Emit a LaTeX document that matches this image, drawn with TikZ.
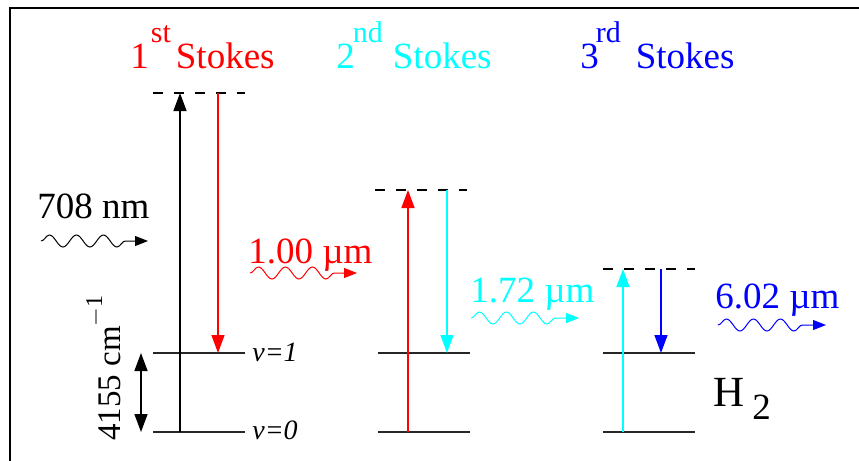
\documentclass[tikz,border=0pt]{standalone}
\usepackage{fontspec}
\setmainfont{Liberation Serif}
\usetikzlibrary{arrows.meta, positioning, decorations.pathmorphing}

\definecolor{stkred}{RGB}{255,0,0}
\definecolor{stkcyan}{RGB}{0,255,255}
\definecolor{stkblue}{RGB}{0,0,255}

\newcommand\ordsup[1]{\raisebox{13pt}{\fontsize{15}{15}\selectfont #1}}

\begin{document}
\begin{tikzpicture}[
  x=0.5pt, y=-0.5pt,
  >={Triangle[length=9pt,width=6.5pt]},
  % Text styles
  big/.style    = {font=\fontsize{18.5}{20}\selectfont, inner sep=0pt,
                   anchor=base west},
  vlabel/.style = {font=\fontsize{14}{16}\selectfont\itshape,
                   inner sep=0pt, anchor=base west},
  % Line styles
  level/.style  = {line width=0.6pt, black!85},
  virt/.style   = {line width=1.3pt, dash pattern=on 5pt off 5.5pt},
  trans/.style  = {->, line width=0.7pt},
  wave/.style   = {-{Triangle[length=6.5pt,width=5pt]}, line width=0.5pt,
                   decorate, decoration={snake, amplitude=3pt,
                   segment length=13.5pt, post length=8pt}}
]
\useasboundingbox (0,0) rectangle (859,461);

% frame
\draw[line width=1pt] (10,470) -- (10,8) -- (870,8);

% =========================== TITLES ===========================
\node[big, stkred]  (t1) at (130,68) {1\kern1pt\ordsup{st}\kern2.5pt Stokes};
\node[big, stkcyan] (t2) at (336,68) {2\kern-1pt\ordsup{nd}\kern5pt Stokes};
\node[big, stkblue] (t3) at (580,68) {3\kern-1.5pt\ordsup{rd}\kern7.5pt Stokes};

% =========================== LEVELS ===========================
\foreach \x in {153,378,603} {
  \draw[level] (\x,353) -- ++(92,0);
  \draw[level] (\x,432) -- ++(92,0);
}
\draw[virt] (153,93)  -- ++(92,0);
\draw[virt] (375,190) -- ++(92,0);
\draw[virt] (603,269) -- ++(92,0);

\node[vlabel] (v1) at (252,361) {v=1};
\node[vlabel] (v0) at (252,439) {v=0};

% arrow end points
\coordinate (a1g) at (180,432); \coordinate (a1u) at (180,93);
\coordinate (b1u) at (218,93);  \coordinate (b1e) at (218,353);
\coordinate (a2g) at (408,432); \coordinate (a2u) at (408,190);
\coordinate (b2u) at (447,190); \coordinate (b2e) at (447,353);
\coordinate (a3g) at (623,432); \coordinate (a3u) at (623,269);
\coordinate (b3u) at (661,269); \coordinate (b3e) at (661,353);
\coordinate (s1) at (141,353);  \coordinate (s0) at (141,432);

% =========================== TRANSITIONS ===========================
\draw[trans]          (a1g) -- (a1u);
\draw[trans, stkred]  (b1u) -- (b1e);
\draw[trans, stkred]  (a2g) -- (a2u);
\draw[trans, stkcyan] (b2u) -- (b2e);
\draw[trans, stkcyan] (a3g) -- (a3u);
\draw[trans, stkblue] (b3u) -- (b3e);

% vibrational spacing
\draw[<->, line width=0.7pt] (s0) -- (s1);
\node[big, rotate=90, font=\fontsize{16.5}{18}\selectfont] (shift) at (120,441)
  {4155 cm\raisebox{9pt}{\fontsize{12}{12}\selectfont $-$1}};

% =========================== PHOTONS ===========================
\node[big]          (pump) at (37,218)  {708 nm};
\node[big, stkred]  (w1)   at (248,263) {1.00 µm};
\node[big, stkcyan] (w2)   at (470,302) {1.72 µm};
\node[big, stkblue] (w3)   at (715,308) {6.02 µm};

\coordinate (p0s) at (41,241);  \coordinate (p0e) at (148,241);
\coordinate (p1s) at (250,273); \coordinate (p1e) at (357,273);
\coordinate (p2s) at (471,318); \coordinate (p2e) at (579,318);
\coordinate (p3s) at (718,325); \coordinate (p3e) at (826,325);

\draw[wave]          (p0s) -- (p0e);
\draw[wave, stkred]  (p1s) -- (p1e);
\draw[wave, stkcyan] (p2s) -- (p2e);
\draw[wave, stkblue] (p3s) -- (p3e);

% molecule
\node[big, font=\fontsize{21.5}{24}\selectfont] (mol) at (713,406)
  {H\kern4pt\raisebox{-6.5pt}{\fontsize{18.5}{20}\selectfont 2}};

\end{tikzpicture}
\end{document}
